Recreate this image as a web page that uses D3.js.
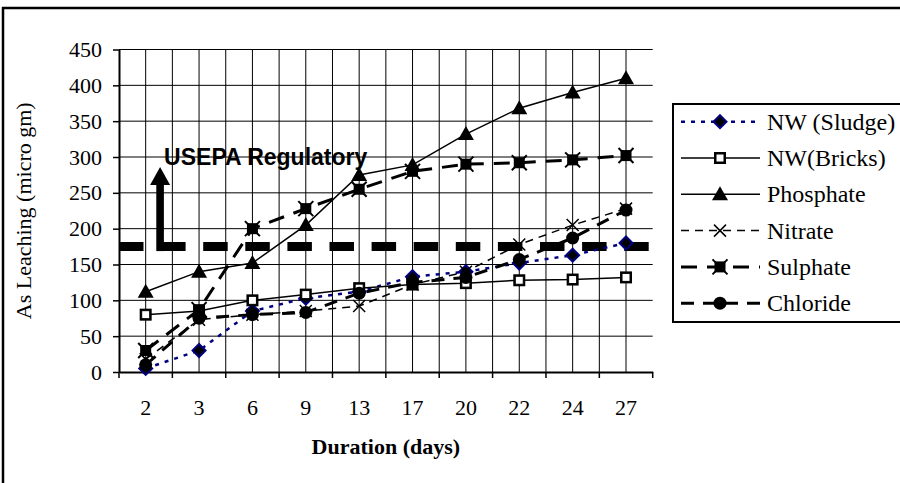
<!DOCTYPE html>
<html>
<head>
<meta charset="utf-8">
<script src="https://cdn.jsdelivr.net/npm/d3@7"></script>
<style>
  html, body { margin: 0; padding: 0; background: #fff; }
  svg { display: block; }
</style>
</head>
<body>
<svg id="chart" width="900" height="483"></svg>
<script>
// ---- data ----
const days = ["2", "3", "6", "9", "13", "17", "20", "22", "24", "27"];
const yTicks = [0, 50, 100, 150, 200, 250, 300, 350, 400, 450];
const nwSludge  = [5, 30, 85, 103, 112, 133, 140, 152, 163, 180];
const nwBricks  = [80, 85, 100, 108, 117, 122, 124, 128, 129, 132];
const phosphate = [112, 140, 152, 205, 275, 289, 332, 368, 390, 410];
const nitrate   = [18, 73, 80, 85, 92, 122, 140, 178, 205, 228];
const sulphate  = [30, 87, 200, 228, 255, 280, 290, 292, 296, 302];
const chloride  = [10, 75, 80, 83, 110, 125, 132, 157, 187, 226];
const regulatoryLimit = 175;
const seriesNames = ["NW (Sludge)", "NW(Bricks)", "Phosphate", "Nitrate", "Sulphate", "Chloride"];

const series = [
  { name: seriesNames[0], values: nwSludge,  color: "#000080", width: 2.5, dash: "4,6",  marker: "diamond" },
  { name: seriesNames[1], values: nwBricks,  color: "#000",    width: 1.5, dash: null,   marker: "square" },
  { name: seriesNames[2], values: phosphate, color: "#000",    width: 1.5, dash: null,   marker: "triangle" },
  { name: seriesNames[3], values: nitrate,   color: "#000",    width: 1.5, dash: "8,6",  marker: "x" },
  { name: seriesNames[4], values: sulphate,  color: "#000",    width: 3,   dash: "16,10", marker: "star" },
  { name: seriesNames[5], values: chloride,  color: "#000",    width: 3,   dash: "13,9", marker: "circle" }
];

const serif = "'Liberation Serif', 'Times New Roman', serif";
const sans = "'Liberation Sans', Arial, sans-serif";

const svg = d3.select("#chart");

// outer frame
svg.append("path")
  .attr("d", "M3,490 V8 H905")
  .attr("fill", "none").attr("stroke", "#000").attr("stroke-width", 2.5);

const x = d3.scaleBand().domain(days).range([119, 652.7]).padding(0);
const y = d3.scaleLinear().domain([0, 450]).range([372, 49.5]);
const bw = x.bandwidth();
const cx = d => x(d) + bw / 2;

// gridlines
const grid = svg.append("g");
yTicks.filter(t => t > 0).forEach(t => {
  grid.append("line")
    .attr("x1", x.range()[0]).attr("x2", x.range()[1])
    .attr("y1", y(t)).attr("y2", y(t))
    .attr("stroke", "#000").attr("stroke-width", 1);
});
const vLines = [];
days.forEach((d, i) => {
  vLines.push(cx(d));
  if (i > 0) vLines.push(x(d));
});
vLines.forEach(v => {
  grid.append("line")
    .attr("x1", v).attr("x2", v)
    .attr("y1", y(450)).attr("y2", y(0))
    .attr("stroke", "#000").attr("stroke-width", 1);
});

// y axis
const yAxis = svg.append("g")
  .attr("transform", `translate(${x.range()[0]},0)`)
  .call(d3.axisLeft(y).tickValues(yTicks).tickSize(6).tickPadding(11).tickSizeOuter(0));
yAxis.select(".domain").attr("stroke-width", 2);
yAxis.selectAll(".tick line").attr("stroke-width", 1.5);
yAxis.selectAll("text").attr("font-family", serif).attr("font-size", 22).attr("fill", "#000");

// x axis
const xAxis = svg.append("g")
  .attr("transform", `translate(0,${y(0)})`)
  .call(d3.axisBottom(x).tickSize(0).tickPadding(27).tickSizeOuter(0));
xAxis.select(".domain").attr("stroke-width", 2);
xAxis.selectAll("text").attr("font-family", serif).attr("font-size", 22).attr("fill", "#000");
const bounds = days.map(d => x(d)).concat([x.range()[1]]);
bounds.forEach(b => {
  xAxis.append("line").attr("x1", b).attr("x2", b).attr("y1", 0).attr("y2", 6)
    .attr("stroke", "#000").attr("stroke-width", 1.5);
});

// axis titles
svg.append("text")
  .attr("x", (x.range()[0] + x.range()[1]) / 2).attr("y", 454)
  .attr("text-anchor", "middle")
  .attr("font-family", serif).attr("font-size", 22).attr("font-weight", "bold")
  .text("Duration (days)");
svg.append("text")
  .attr("transform", `translate(31,${(y(0) + y(450)) / 2}) rotate(-90)`)
  .attr("text-anchor", "middle")
  .attr("font-family", serif).attr("font-size", 22)
  .text("As Leaching (micro gm)");

// regulatory line + arrow + label
const regY = y(regulatoryLimit);
svg.append("line")
  .attr("x1", x.range()[0]).attr("x2", x.range()[1])
  .attr("y1", regY).attr("y2", regY)
  .attr("stroke", "#000").attr("stroke-width", 9)
  .attr("stroke-dasharray", "24.5,17.6");
const arrowX = x(days[0]) + bw * 0.77;
svg.append("rect")
  .attr("x", arrowX - 3.8).attr("y", 184).attr("width", 7.6).attr("height", regY + 4.5 - 184)
  .attr("fill", "#000");
svg.append("path")
  .attr("d", `M${arrowX - 10},185 L${arrowX + 10},185 L${arrowX},167 Z`)
  .attr("fill", "#000");
svg.append("text")
  .attr("x", arrowX + 4).attr("y", 165)
  .attr("font-family", sans).attr("font-size", 23).attr("font-weight", "bold")
  .text("USEPA Regulatory");

// markers
function drawMarker(g, type, px, py, color) {
  if (type === "diamond") {
    g.append("path").attr("d", `M${px},${py - 6.5} L${px + 6.5},${py} L${px},${py + 6.5} L${px - 6.5},${py} Z`)
      .attr("fill", "#000").attr("stroke", color).attr("stroke-width", 2);
  } else if (type === "square") {
    g.append("rect").attr("x", px - 6).attr("y", py - 6).attr("width", 12).attr("height", 12)
      .attr("fill", "#000");
    g.append("rect").attr("x", px - 4).attr("y", py - 4).attr("width", 8).attr("height", 8)
      .attr("fill", "#fff").attr("stroke", "#000").attr("stroke-width", 1);
  } else if (type === "triangle") {
    g.append("path").attr("d", `M${px},${py - 8} L${px + 8},${py + 6} L${px - 8},${py + 6} Z`)
      .attr("fill", "#000");
  } else if (type === "x") {
    g.append("path").attr("d", `M${px - 6},${py - 6} L${px + 6},${py + 6} M${px - 6},${py + 6} L${px + 6},${py - 6}`)
      .attr("stroke", "#000").attr("stroke-width", 1.5).attr("fill", "none");
  } else if (type === "star") {
    g.append("rect").attr("x", px - 5.5).attr("y", py - 5.5).attr("width", 11).attr("height", 11)
      .attr("fill", "#000");
    g.append("path").attr("d", `M${px - 7.5},${py - 7.5} L${px + 7.5},${py + 7.5} M${px - 7.5},${py + 7.5} L${px + 7.5},${py - 7.5}`)
      .attr("stroke", "#000").attr("stroke-width", 2).attr("fill", "none");
  } else if (type === "circle") {
    g.append("circle").attr("cx", px).attr("cy", py).attr("r", 6.5).attr("fill", "#000");
  }
}

// series lines
const line = d3.line().x((v, i) => cx(days[i])).y(v => y(v));
const plotG = svg.append("g");
series.forEach(s => {
  plotG.append("path")
    .attr("d", line(s.values))
    .attr("fill", "none")
    .attr("stroke", s.color).attr("stroke-width", s.width)
    .attr("stroke-dasharray", s.dash);
});
series.forEach(s => {
  const g = plotG.append("g");
  s.values.forEach((v, i) => drawMarker(g, s.marker, cx(days[i]), y(v), s.color));
});

// legend
const leg = svg.append("g");
leg.append("rect").attr("x", 673).attr("y", 104).attr("width", 240).attr("height", 218)
  .attr("fill", "#fff").attr("stroke", "#000").attr("stroke-width", 2);
series.forEach((s, i) => {
  const ly = 121.7 + i * 36.3;
  leg.append("line").attr("x1", 681).attr("x2", 760).attr("y1", ly).attr("y2", ly)
    .attr("stroke", s.color).attr("stroke-width", s.width).attr("stroke-dasharray", s.dash);
  drawMarker(leg, s.marker, 720, ly, s.color);
  leg.append("text").attr("x", 767).attr("y", ly + 8)
    .attr("font-family", serif).attr("font-size", 24).text(s.name);
});
</script>
</body>
</html>
